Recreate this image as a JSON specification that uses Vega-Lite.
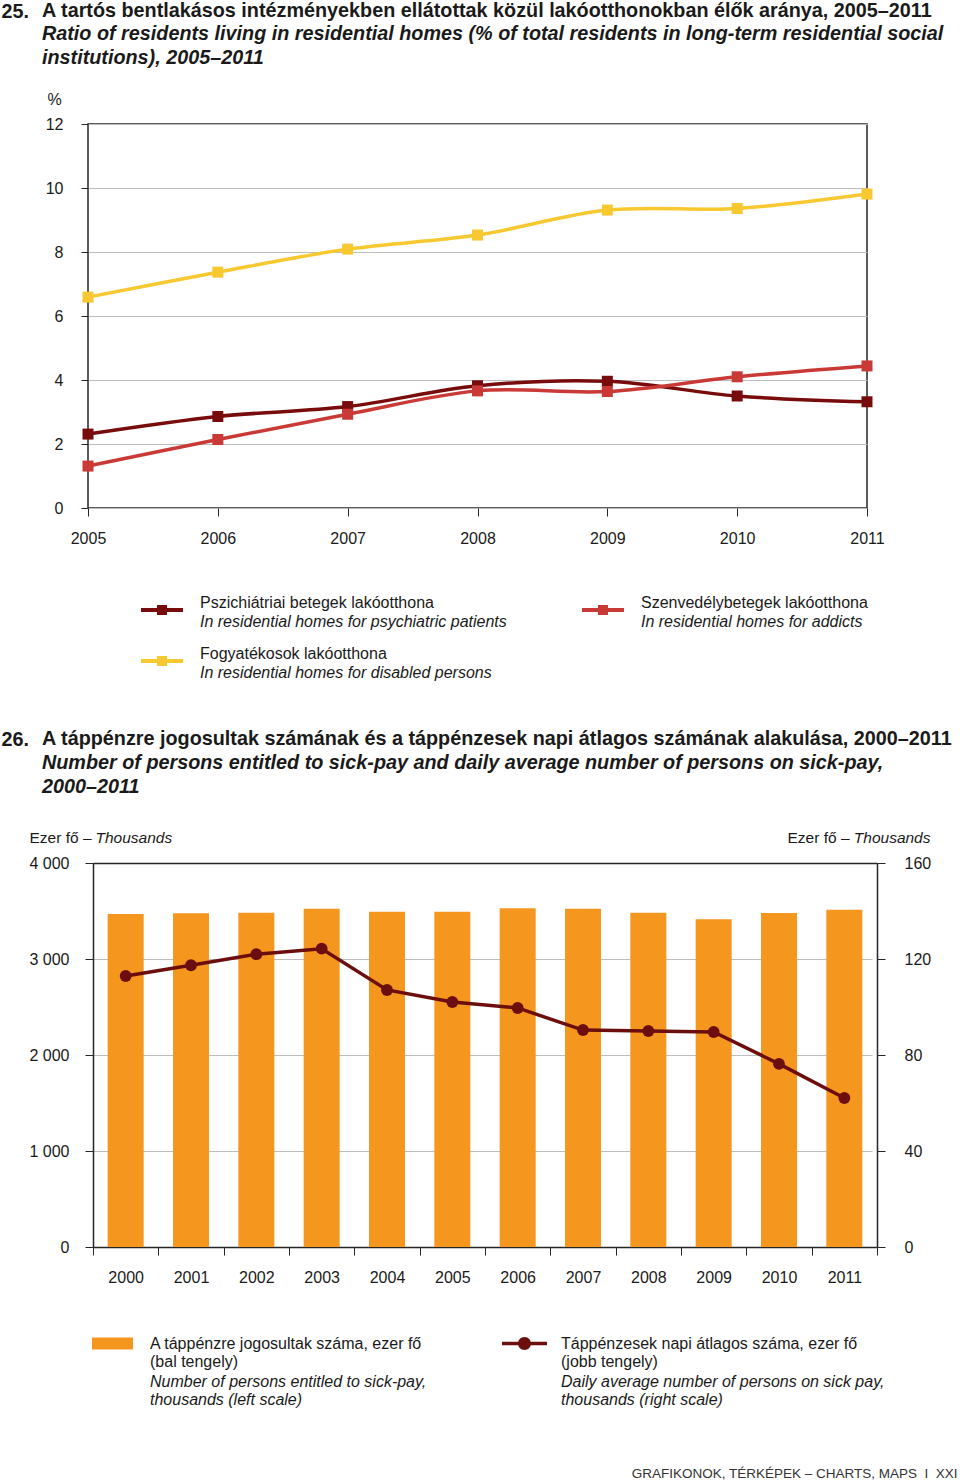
{
  "$schema": "https://vega.github.io/schema/vega-lite/v6.json",
  "padding": 0,
  "background": "white",
  "spacing": 355,
  "bounds": "flush",
  "config": {
    "font": "Liberation Sans",
    "view": {"stroke": null},
    "axis": {
      "labelFont": "Liberation Sans", "titleFont": "Liberation Sans",
      "labelColor": "#1a1a1a", "titleColor": "#1a1a1a",
      "tickColor": "#262626", "domainColor": "#262626",
      "gridColor": "#bdbdbd", "labelFontSize": 16, "titleFontWeight": "normal",
      "labelFlush": false, "labelOverlap": false, "labelBound": false
    },
    "legend": {"labelFont": "Liberation Sans", "labelFontSize": 16, "labelColor": "#1a1a1a", "labelLimit": 900, "padding": 0},
    "title": {
      "font": "Liberation Sans", "fontSize": 19.8, "fontWeight": "bold", "color": "#1a1a1a",
      "subtitleFont": "Liberation Sans", "subtitleFontSize": 19.8, "subtitleFontWeight": "bold",
      "subtitleFontStyle": "italic", "subtitleColor": "#1a1a1a", "subtitlePadding": 3.5,
      "subtitleLineHeight": 24, "anchor": "start", "frame": "group"
    }
  },
  "vconcat": [
    {
      "width": 779,
      "height": 384,
      "view": {"stroke": "#262626", "strokeWidth": 1.5},
      "title": {
        "text": "A tartós bentlakásos intézményekben ellátottak közül lakóotthonokban élők aránya, 2005–2011",
        "subtitle": ["Ratio of residents living in residential homes (% of total residents in long-term residential social", "institutions), 2005–2011"],
        "dx": -46,
        "offset": -67
      },
      "data": {"values": [
        {"year": 2005, "hu": "Pszichiátriai betegek lakóotthona", "en": "In residential homes for psychiatric patients", "value": 2.31},
        {"year": 2006, "hu": "Pszichiátriai betegek lakóotthona", "en": "In residential homes for psychiatric patients", "value": 2.86},
        {"year": 2007, "hu": "Pszichiátriai betegek lakóotthona", "en": "In residential homes for psychiatric patients", "value": 3.17},
        {"year": 2008, "hu": "Pszichiátriai betegek lakóotthona", "en": "In residential homes for psychiatric patients", "value": 3.82},
        {"year": 2009, "hu": "Pszichiátriai betegek lakóotthona", "en": "In residential homes for psychiatric patients", "value": 3.96},
        {"year": 2010, "hu": "Pszichiátriai betegek lakóotthona", "en": "In residential homes for psychiatric patients", "value": 3.5},
        {"year": 2011, "hu": "Pszichiátriai betegek lakóotthona", "en": "In residential homes for psychiatric patients", "value": 3.32},
        {"year": 2005, "hu": "Szenvedélybetegek lakóotthona", "en": "In residential homes for addicts", "value": 1.31},
        {"year": 2006, "hu": "Szenvedélybetegek lakóotthona", "en": "In residential homes for addicts", "value": 2.14},
        {"year": 2007, "hu": "Szenvedélybetegek lakóotthona", "en": "In residential homes for addicts", "value": 2.93},
        {"year": 2008, "hu": "Szenvedélybetegek lakóotthona", "en": "In residential homes for addicts", "value": 3.66},
        {"year": 2009, "hu": "Szenvedélybetegek lakóotthona", "en": "In residential homes for addicts", "value": 3.64},
        {"year": 2010, "hu": "Szenvedélybetegek lakóotthona", "en": "In residential homes for addicts", "value": 4.1},
        {"year": 2011, "hu": "Szenvedélybetegek lakóotthona", "en": "In residential homes for addicts", "value": 4.44},
        {"year": 2005, "hu": "Fogyatékosok lakóotthona", "en": "In residential homes for disabled persons", "value": 6.59},
        {"year": 2006, "hu": "Fogyatékosok lakóotthona", "en": "In residential homes for disabled persons", "value": 7.37},
        {"year": 2007, "hu": "Fogyatékosok lakóotthona", "en": "In residential homes for disabled persons", "value": 8.09},
        {"year": 2008, "hu": "Fogyatékosok lakóotthona", "en": "In residential homes for disabled persons", "value": 8.53},
        {"year": 2009, "hu": "Fogyatékosok lakóotthona", "en": "In residential homes for disabled persons", "value": 9.31},
        {"year": 2010, "hu": "Fogyatékosok lakóotthona", "en": "In residential homes for disabled persons", "value": 9.36},
        {"year": 2011, "hu": "Fogyatékosok lakóotthona", "en": "In residential homes for disabled persons", "value": 9.81}
      ]},
      "layer": [
        {
          "mark": {"type": "line", "interpolate": "cardinal", "strokeWidth": 3.5},
          "encoding": {
            "x": {"field": "year", "type": "quantitative",
              "scale": {"domain": [2005, 2011], "nice": false, "zero": false},
              "axis": {"orient": "bottom", "values": [2005, 2006, 2007, 2008, 2009, 2010, 2011], "format": "d",
                "tickSize": 8, "domain": false, "grid": false, "labelPadding": 14, "title": null}},
            "y": {"field": "value", "type": "quantitative",
              "scale": {"domain": [0, 12], "nice": false},
              "axis": {"orient": "left", "values": [0, 2, 4, 6, 8, 10, 12], "tickSize": 7, "domain": false,
                "grid": true, "labelPadding": 18,
                "title": "%", "titleAngle": 0, "titleX": -34, "titleY": -25, "titleAlign": "center",
                "titleBaseline": "middle", "titleFontSize": 16}},
            "color": {"field": "hu", "type": "nominal",
              "scale": {"domain": ["Pszichiátriai betegek lakóotthona", "Szenvedélybetegek lakóotthona", "Fogyatékosok lakóotthona"],
                "range": ["#780c0c", "#c93a36", "#f8c830"]},
              "legend": {"orient": "none", "legendX": 51, "legendY": 456, "columns": 2, "direction": "horizontal",
                "columnPadding": 140, "rowPadding": 10, "title": null,
                "symbolType": "M-1,0.333L1,0.333M-0.143,0.19L0.143,0.19L0.143,0.476L-0.143,0.476Z",
                "symbolSize": 1764, "symbolStrokeWidth": 4, "labelOffset": 15}}
          }
        },
        {
          "mark": {"type": "point", "filled": true, "size": 121, "opacity": 1},
          "encoding": {
            "x": {"field": "year", "type": "quantitative",
              "scale": {"domain": [2005, 2011], "nice": false, "zero": false},
              "axis": {"orient": "top", "domain": false, "ticks": false, "labels": false, "grid": false,
                "title": "25.", "titleX": -87, "titleY": -113, "titleAlign": "left", "titleBaseline": "middle",
                "titleAngle": 0, "titleFontSize": 19.8, "titleFontWeight": "bold"}},
            "y": {"field": "value", "type": "quantitative", "scale": {"domain": [0, 12], "nice": false},
              "axis": {"orient": "left", "values": [0, 2, 4, 6, 8, 10, 12], "tickSize": 7, "domain": false,
                "grid": true, "labelPadding": 18,
                "title": "%", "titleAngle": 0, "titleX": -34, "titleY": -25, "titleAlign": "center",
                "titleBaseline": "middle", "titleFontSize": 16}},
            "color": {"field": "hu", "type": "nominal",
              "scale": {"domain": ["Pszichiátriai betegek lakóotthona", "Szenvedélybetegek lakóotthona", "Fogyatékosok lakóotthona"],
                "range": ["#780c0c", "#c93a36", "#f8c830"]},
              "legend": {"orient": "none", "legendX": 51, "legendY": 456, "columns": 2, "direction": "horizontal",
                "columnPadding": 140, "rowPadding": 10, "title": null,
                "symbolType": "M-1,0.333L1,0.333M-0.143,0.19L0.143,0.19L0.143,0.476L-0.143,0.476Z",
                "symbolSize": 1764, "symbolStrokeWidth": 4, "labelOffset": 15}},
            "shape": {"field": "en", "type": "nominal",
              "scale": {"domain": ["In residential homes for psychiatric patients", "In residential homes for addicts", "In residential homes for disabled persons"],
                "range": ["square", "square", "square"]},
              "legend": {"orient": "none", "legendX": 51, "legendY": 475, "columns": 2, "direction": "horizontal",
                "columnPadding": 73, "rowPadding": 7, "title": null, "labelFontStyle": "italic",
                "symbolSize": 1764, "symbolStrokeWidth": 4, "symbolOpacity": 0,
                "symbolFillColor": "transparent", "symbolStrokeColor": "transparent", "labelOffset": 15}}
          }
        }
      ],
      "resolve": {"axis": {"x": "independent"}}
    },
    {
      "width": 789,
      "height": 384,
      "title": {
        "text": "A táppénzre jogosultak számának és a táppénzesek napi átlagos számának alakulása, 2000–2011",
        "subtitle": ["Number of persons entitled to sick-pay and daily average number of persons on sick-pay,", "2000–2011"],
        "dx": -46,
        "offset": -67.5
      },
      "data": {"values": [
        {"year": "2000", "entitled": 3469, "daily": 112.9},
        {"year": "2001", "entitled": 3476, "daily": 117.4},
        {"year": "2002", "entitled": 3483, "daily": 122.0},
        {"year": "2003", "entitled": 3524, "daily": 124.3},
        {"year": "2004", "entitled": 3493, "daily": 107.1},
        {"year": "2005", "entitled": 3493, "daily": 102.1},
        {"year": "2006", "entitled": 3528, "daily": 99.6},
        {"year": "2007", "entitled": 3524, "daily": 90.4},
        {"year": "2008", "entitled": 3483, "daily": 90.0},
        {"year": "2009", "entitled": 3413, "daily": 89.6},
        {"year": "2010", "entitled": 3479, "daily": 76.3},
        {"year": "2011", "entitled": 3514, "daily": 62.1}
      ]},
      "layer": [
        {
          "mark": {"type": "bar", "width": {"band": 0.551}},
          "encoding": {
            "x": {"field": "year", "type": "ordinal", "scale": {"range": [5, 789], "paddingInner": 0, "paddingOuter": 0},
              "axis": {"orient": "bottom", "tickBand": "extent", "tickSize": 8, "domain": true, "domainWidth": 1.5,
                "labelAngle": 0, "labelPadding": 14, "grid": false,
                "title": "GRAFIKONOK, TÉRKÉPEK – CHARTS, MAPS \u00a0I\u00a0 XXI",
                "titleX": 869, "titleY": 226, "titleAlign": "right", "titleBaseline": "middle",
                "titleFontSize": 13.5, "titleColor": "#333333"}},
            "y": {"field": "entitled", "type": "quantitative", "scale": {"domain": [0, 4000], "nice": false},
              "axis": {"orient": "left", "offset": -5, "values": [0, 1000, 2000, 3000, 4000],
                "labelExpr": "replace(format(datum.value, ','), ',', ' ')",
                "tickSize": 8, "domain": true, "domainWidth": 1.5, "grid": false, "labelPadding": 16,
                "title": "Ezer fő –", "titleX": -64, "titleY": -26, "titleAlign": "left", "titleBaseline": "middle",
                "titleAngle": 0, "titleFontSize": 15.5}},
            "fill": {"datum": "A táppénzre jogosultak száma, ezer fő|(bal tengely)",
              "scale": {"range": ["#f5961f"]},
              "legend": {"orient": "none", "legendX": 4, "legendY": 460, "title": null,
                "symbolType": "M-1,-0.293L1,-0.293L1,0.293L-1,0.293Z", "symbolSize": 1681, "symbolStrokeWidth": 0,
                "labelOffset": 17, "labelExpr": "split(datum.label, '|')",
                "encode": {"labels": {"lineHeight": {"value": 19}}}}},
            "opacity": {"datum": "Number of persons entitled to sick-pay,|thousands (left scale)", "type": "ordinal",
              "scale": {"range": [1]},
              "legend": {"orient": "none", "legendX": 4, "legendY": 498, "title": null,
                "symbolType": "M0,0L0,0Z", "symbolSize": 1681, "symbolStrokeWidth": 0,
                "symbolFillColor": "transparent", "symbolStrokeColor": "transparent",
                "labelOffset": 17, "labelFontStyle": "italic", "labelExpr": "split(datum.label, '|')",
                "encode": {"labels": {"lineHeight": {"value": 19}}}}}
          }
        },
        {
          "mark": {"type": "line", "color": "#6d0e0e", "strokeWidth": 3.5},
          "encoding": {
            "x": {"field": "year", "type": "ordinal", "scale": {"range": [5, 789], "paddingInner": 0, "paddingOuter": 0},
              "axis": {"orient": "top", "domain": true, "domainWidth": 1.5, "ticks": false, "labels": false, "grid": false,
                "title": "26.", "titleX": -87, "titleY": -124, "titleAlign": "left", "titleBaseline": "middle",
                "titleAngle": 0, "titleFontSize": 19.8, "titleFontWeight": "bold"}},
            "y": {"field": "daily", "type": "quantitative", "scale": {"domain": [0, 160], "nice": false},
              "axis": {"orient": "right", "values": [0, 40, 80, 120, 160], "tickSize": 8, "domain": true,
                "domainWidth": 1.5, "grid": true, "labelPadding": 19,
                "title": "Ezer fő –", "titleX": -90, "titleY": -26, "titleAlign": "left", "titleBaseline": "middle",
                "titleAngle": 0, "titleFontSize": 15.5}}
          }
        },
        {
          "mark": {"type": "point", "filled": true, "shape": "circle", "size": 140, "opacity": 1},
          "encoding": {
            "x": {"field": "year", "type": "ordinal", "scale": {"range": [5, 789], "paddingInner": 0, "paddingOuter": 0},
              "axis": {"orient": "bottom", "domain": false, "ticks": false, "labels": false, "grid": false,
                "title": "Thousands", "titleX": 7, "titleY": -410, "titleAlign": "left", "titleBaseline": "middle",
                "titleFontSize": 15.5, "titleFontStyle": "italic"}},
            "y": {"field": "daily", "type": "quantitative", "scale": {"domain": [0, 160], "nice": false},
              "axis": {"orient": "right", "domain": false, "ticks": false, "labels": false, "grid": false,
                "title": "Thousands", "titleX": 53, "titleY": -26, "titleAlign": "right", "titleBaseline": "middle",
                "titleAngle": 0, "titleFontSize": 15.5, "titleFontStyle": "italic"}},
            "fill": {"datum": "Táppénzesek napi átlagos száma, ezer fő|(jobb tengely)",
              "scale": {"range": ["#6d0e0e"]},
              "legend": {"orient": "none", "legendX": 414, "legendY": 458, "title": null,
                "symbolType": "M-1,-0.08L1,-0.08L1,0.08L-1,0.08Z M0,-0.289A0.289,0.289 0 1 1 0,0.289A0.289,0.289 0 1 1 0,-0.289Z",
                "symbolSize": 2025, "symbolStrokeWidth": 0,
                "labelOffset": 14, "labelExpr": "split(datum.label, '|')",
                "encode": {"labels": {"lineHeight": {"value": 19}}}}},
            "opacity": {"datum": "Daily average number of persons on sick pay,|thousands (right scale)", "type": "ordinal",
              "scale": {"range": [1]},
              "legend": {"orient": "none", "legendX": 414, "legendY": 496, "title": null,
                "symbolType": "M0,0L0,0Z", "symbolSize": 2025, "symbolStrokeWidth": 0,
                "symbolFillColor": "transparent", "symbolStrokeColor": "transparent",
                "labelOffset": 14, "labelFontStyle": "italic", "labelExpr": "split(datum.label, '|')",
                "encode": {"labels": {"lineHeight": {"value": 19}}}}}
          }
        }
      ],
      "resolve": {"scale": {"y": "independent", "fill": "independent", "opacity": "independent"}, "axis": {"x": "independent"}}
    }
  ]
}
